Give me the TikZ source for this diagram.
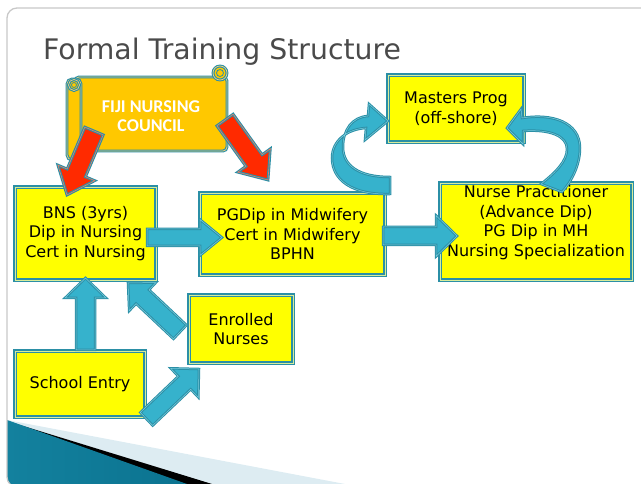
\documentclass[tikz,border=0pt]{standalone}
\usepackage{fontspec}
\setmainfont{DejaVu Sans}
\newfontfamily\carlito{Carlito}
\usetikzlibrary{calc}
\definecolor{tealb}{HTML}{2B8FA6}
\definecolor{arrowfill}{HTML}{36B2CC}
\definecolor{arrowin}{HTML}{7CCFE0}
\definecolor{boxyellow}{HTML}{FFFF00}
\definecolor{boxin}{HTML}{D8EC9A}
\definecolor{councilfill}{HTML}{FFC800}
\definecolor{councilin}{HTML}{F2D27A}
\definecolor{redarrow}{HTML}{FF2A00}
\definecolor{redin}{HTML}{E8806A}
\definecolor{titlegray}{HTML}{4A4A4A}
\definecolor{framegray}{HTML}{C8C8C8}
\definecolor{lightwedge}{HTML}{DDECF2}
\definecolor{tealdark}{HTML}{13819E}
\definecolor{teallight}{HTML}{5BBFD4}
\definecolor{tealend}{HTML}{0B7390}

\newcommand\bkarrow[6]{%
  \coordinate (ba-base) at ($(#3)!#6!(#2)$);
  \draw[#1] ($(#2)!#4!90:(#3)$) -- ($(ba-base)!#4!-90:(#2)$) -- ($(ba-base)!#5!-90:(#2)$) -- (#3) -- ($(ba-base)!#5!90:(#2)$) -- ($(ba-base)!#4!90:(#2)$) -- ($(#2)!#4!-90:(#3)$) -- cycle;}

\tikzset{
  box/.style={draw=tealb, line width=1.2pt, double=boxin, double distance=0.9pt, fill=boxyellow, inner sep=0pt, outer sep=0pt},
  boxtext/.style={align=center, font=\fontsize{16}{19.5}\selectfont, text=black, inner sep=0pt},
  bluearrow/.style={draw=tealb, line width=1pt, double=arrowin, double distance=0.5pt, fill=arrowfill, line join=miter},
  redarr/.style={draw=tealb, line width=1.1pt, double=redin, double distance=0.6pt, fill=redarrow, line join=miter},
  scrollpart/.style={draw=tealb, line width=1.1pt, double=councilin, double distance=0.7pt, fill=councilfill},
}

\begin{document}
\begin{tikzpicture}[x=1pt, y=-1pt]
\useasboundingbox (0,0) rectangle (641,484);
\clip (0,0) rectangle (641,484);

% slide background decoration
\begin{scope}
  \clip[rounded corners=10pt] (7,8) rectangle (700,487);
  \fill[lightwedge] (7,420) -- (345,484) -- (345,500) -- (7,500) -- cycle;
  \fill[black] (7,421) -- (212,484) -- (212,500) -- (7,500) -- cycle;
  \shade[left color=tealdark, middle color=teallight, right color=tealend] (7,420) -- (187,484) -- (187,500) -- (7,500) -- cycle;
\end{scope}
\draw[framegray, line width=1.3pt, rounded corners=10pt] (7,8) rectangle (700,487);

% title
\node[anchor=base west, text=titlegray, font=\fontsize{28.3}{30}\selectfont, inner sep=0pt] (title) at (43,60) {Formal Training Structure};

% council scroll
\draw[scrollpart, rounded corners=4pt] (75,77) rectangle (227,151);
\draw[scrollpart] (220,73) circle (7);
\draw[tealb, line width=0.8pt] (220,73) circle (3.5);
\draw[scrollpart, rounded corners=5pt] (67,79) rectangle (81,160);
\draw[scrollpart] (74,85) circle (5.5);
\draw[tealb, line width=0.8pt] (74,85) circle (2.5);
\node[text=white, font=\carlito\bfseries\fontsize{18}{19}\selectfont, align=center, inner sep=0pt] (council) at (151,116) {FIJI NURSING\\COUNCIL};

% boxes
\node[box, boxtext, minimum width=141pt, minimum height=93pt] (bns) at (85.5,233.5) {BNS (3yrs)\\Dip in Nursing\\Cert in Nursing};
\node[box, boxtext, minimum width=185pt, minimum height=82pt] (pg) at (292.5,234) {PGDip in Midwifery\\Cert in Midwifery\\BPHN};
\node[box, minimum width=192pt, minimum height=97pt] (np) at (536,231.5) {};
\node[boxtext] (nptext) at (536,222.5) {Nurse Practitioner\\(Advance Dip)\\PG Dip in MH\\Nursing Specialization};
\node[box, boxtext, minimum width=136pt, minimum height=67pt] (masters) at (456,108.5) {Masters Prog\\(off-shore)};
\node[box, boxtext, minimum width=104pt, minimum height=68pt] (enrolled) at (241,329) {Enrolled\\Nurses};
\node[box, boxtext, minimum width=130pt, minimum height=66pt] (school) at (80,384) {School Entry};

% straight blue arrows
\coordinate (a1s) at (147,237.5); \coordinate (a1e) at (222,237.5);
\coordinate (a2s) at (383,236);   \coordinate (a2e) at (457,236);
\coordinate (a3s) at (85.5,350);  \coordinate (a3e) at (85.5,278);
\coordinate (a4s) at (180,332);   \coordinate (a4e) at (128,283);
\coordinate (a5s) at (146.5,419); \coordinate (a5e) at (199,369);
\bkarrow{bluearrow}{a1s}{a1e}{8.5pt}{18pt}{22pt}
\bkarrow{bluearrow}{a2s}{a2e}{9pt}{20.5pt}{21pt}
\bkarrow{bluearrow}{a3s}{a3e}{9.5pt}{20.5pt}{20pt}
\bkarrow{bluearrow}{a4s}{a4e}{9.5pt}{19.5pt}{20pt}
\bkarrow{bluearrow}{a5s}{a5e}{9pt}{20pt}{20pt}

% curved blue arrows
\draw[bluearrow] (390,194) .. controls (352,195) and (332,180) .. (332,158)
  .. controls (332,140) and (348,129) .. (366,128) -- (365,140) -- (388,121) -- (369,104) -- (368,116)
  .. controls (352,117) and (343,130) .. (343,147)
  .. controls (343,165) and (358,177) .. (390,177) -- cycle;
\draw[bluearrow] (507,128) -- (521,109) -- (522,118)
  .. controls (552,113) and (580,122) .. (580,148)
  .. controls (580,166) and (571,182) .. (562,192) -- (541,184)
  .. controls (556,172) and (567,161) .. (567,149)
  .. controls (567,136) and (550,129) .. (523,131) -- (523,144) -- cycle;

% red arrows
\coordinate (r1s) at (94,131);  \coordinate (r1e) at (67,195);
\coordinate (r2s) at (225,120); \coordinate (r2e) at (268,180);
\bkarrow{redarr}{r1s}{r1e}{10pt}{20pt}{24pt}
\bkarrow{redarr}{r2s}{r2e}{10pt}{20pt}{24pt}
\end{tikzpicture}
\end{document}
